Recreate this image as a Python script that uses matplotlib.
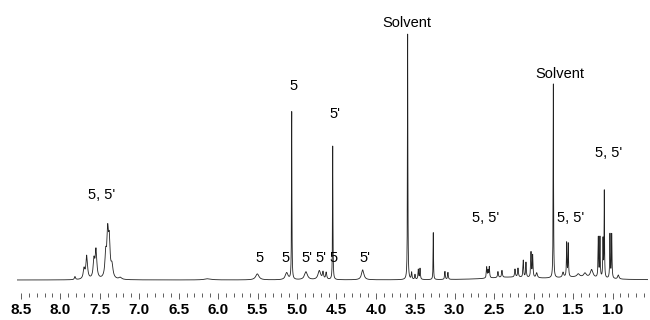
import numpy as np
import matplotlib
matplotlib.use('Agg')
import matplotlib.pyplot as plt

plt.rcParams['font.family'] = ['Liberation Sans', 'DejaVu Sans']

# Peak list: position (ppm), height (a.u.), half width (ppm)
peak_ppm = [7.815, 7.70, 7.666, 7.574, 7.548, 7.425, 7.40, 7.38, 7.346, 7.24, 6.13,
            5.503, 5.131, 5.067, 4.886, 4.717, 4.67, 4.63, 4.547, 4.167,
            3.597, 3.546, 3.504, 3.462, 3.44, 3.272, 3.124, 3.086,
            2.595, 2.578, 2.562, 2.452, 2.401, 2.236, 2.198, 2.131, 2.097, 2.033, 2.012, 1.961,
            1.75, 1.627, 1.581, 1.561, 1.434, 1.349, 1.264,
            1.18, 1.159, 1.12, 1.104, 1.032, 1.01, 0.926,
            2.3, 1.45]
peak_height = [3, 10, 23, 18, 28, 22, 42, 34, 12, 2, 1.2,
               6, 7, 168, 8, 9, 7, 7, 134, 10,
               246, 7, 5, 10, 11, 47, 8, 7,
               11, 7, 11, 6, 7, 8, 9, 17, 15, 25, 22, 5,
               194, 5, 34, 33, 3, 4, 8,
               40, 40, 38, 86, 44, 44, 4,
               2.5, 2.5]
peak_width = [0.008, 0.012, 0.012, 0.012, 0.012, 0.012, 0.012, 0.012, 0.015, 0.02, 0.05,
              0.025, 0.02, 0.003, 0.022, 0.02, 0.008, 0.008, 0.003, 0.018,
              0.003, 0.005, 0.005, 0.005, 0.005, 0.003, 0.005, 0.005,
              0.005, 0.005, 0.005, 0.006, 0.006, 0.006, 0.006, 0.005, 0.005, 0.005, 0.005, 0.01,
              0.003, 0.01, 0.004, 0.004, 0.02, 0.02, 0.02,
              0.004, 0.004, 0.004, 0.003, 0.004, 0.004, 0.01,
              0.35, 0.3]

# Assignment labels: text, ppm, height
label_text = ["5, 5'", '5', '5', "5'", "5'", '5', "5'", '5', "5'",
              'Solvent', "5, 5'", 'Solvent', "5, 5'", "5, 5'"]
label_ppm = [7.476, 5.478, 5.152, 4.87, 4.70, 4.54, 4.138, 5.047, 4.518,
             3.609, 2.604, 1.666, 1.53, 1.053]
label_y = [85, 21.7, 21.7, 21.7, 21.7, 21.7, 21.7, 194, 166,
           257.3, 61.7, 206, 61.7, 127.3]

ppm = np.linspace(0.55, 8.55, 24000)
spec = np.zeros_like(ppm)
for c, h, w in zip(peak_ppm, peak_height, peak_width):
    spec += h * w**2 / ((ppm - c)**2 + w**2)

fig = plt.figure(figsize=(6.5, 3.2), dpi=100)
ax = fig.add_axes([17/650, 27/320, 631/650, 293/320])
ax.plot(ppm, spec, color='#222222', linewidth=0.6)

for t, x, y in zip(label_text, label_ppm, label_y):
    ax.text(x, y, t, ha='center', va='center', fontsize=10.5)

ax.set_xlim(8.55, 0.55)
ax.set_ylim(-13, 280)
for s in ['top', 'left', 'right', 'bottom']:
    ax.spines[s].set_visible(False)
ax.set_yticks([])
ax.set_xticks(np.arange(1.0, 8.51, 0.5))
ax.set_xticklabels([f'{v:.1f}' for v in np.arange(1.0, 8.51, 0.5)],
                   fontsize=11, fontweight='bold')
ax.set_xticks(np.arange(0.6, 8.55, 0.1), minor=True)
ax.tick_params(axis='x', which='major', length=4.5, width=0.6, pad=3, color='#444444')
ax.tick_params(axis='x', which='minor', length=3, width=0.6, color='#444444')

fig.savefig('out.png', dpi=100)
